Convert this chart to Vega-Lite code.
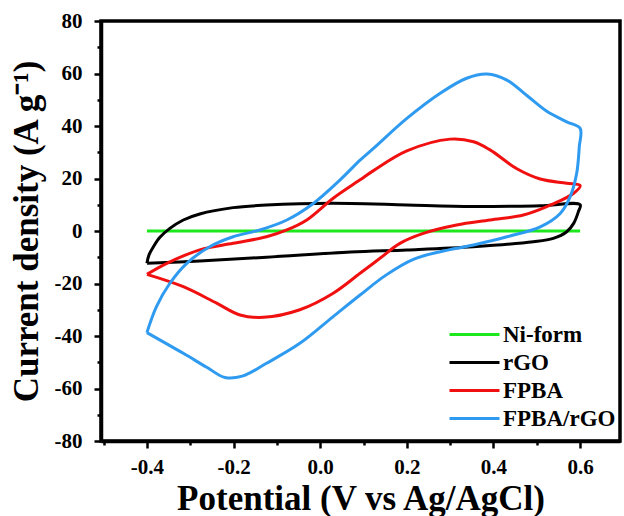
{
  "$schema": "https://vega.github.io/schema/vega-lite/v6.json",
  "width": 519,
  "height": 420,
  "autosize": {"type": "none"},
  "padding": {"left": 101, "top": 21, "right": 4, "bottom": 75},
  "background": "white",
  "config": {
    "view": {"stroke": "black", "strokeWidth": 3.5},
    "font": "Liberation Serif"
  },
  "data": {
    "values": [
      {"s": "Ni-form", "i": 0, "v": -0.4, "j": 0.0},
      {"s": "Ni-form", "i": 1, "v": 0.6, "j": 0.0},

      {"s": "rGO", "i": 0, "v": -0.4, "j": -12.3},
      {"s": "rGO", "i": 1, "v": -0.395, "j": -9.0},
      {"s": "rGO", "i": 2, "v": -0.385, "j": -6.0},
      {"s": "rGO", "i": 3, "v": -0.37, "j": -2.4},
      {"s": "rGO", "i": 4, "v": -0.347, "j": 1.0},
      {"s": "rGO", "i": 5, "v": -0.316, "j": 4.2},
      {"s": "rGO", "i": 6, "v": -0.278, "j": 6.5},
      {"s": "rGO", "i": 7, "v": -0.201, "j": 8.9},
      {"s": "rGO", "i": 8, "v": -0.124, "j": 9.9},
      {"s": "rGO", "i": 9, "v": -0.047, "j": 10.4},
      {"s": "rGO", "i": 10, "v": 0.07, "j": 10.5},
      {"s": "rGO", "i": 11, "v": 0.2, "j": 9.9},
      {"s": "rGO", "i": 12, "v": 0.353, "j": 9.3},
      {"s": "rGO", "i": 13, "v": 0.508, "j": 9.6},
      {"s": "rGO", "i": 14, "v": 0.6, "j": 10.0},
      {"s": "rGO", "i": 15, "v": 0.596, "j": 7.4},
      {"s": "rGO", "i": 16, "v": 0.585, "j": 2.9},
      {"s": "rGO", "i": 17, "v": 0.569, "j": -0.3},
      {"s": "rGO", "i": 18, "v": 0.538, "j": -2.8},
      {"s": "rGO", "i": 19, "v": 0.492, "j": -4.1},
      {"s": "rGO", "i": 20, "v": 0.353, "j": -6.0},
      {"s": "rGO", "i": 21, "v": 0.2, "j": -7.2},
      {"s": "rGO", "i": 22, "v": 0.07, "j": -8.0},
      {"s": "rGO", "i": 23, "v": -0.124, "j": -10.0},
      {"s": "rGO", "i": 24, "v": -0.278, "j": -11.4},
      {"s": "rGO", "i": 25, "v": -0.4, "j": -12.3},

      {"s": "FPBA", "i": 0, "v": -0.4, "j": -16.5},
      {"s": "FPBA", "i": 1, "v": -0.354, "j": -12.3},
      {"s": "FPBA", "i": 2, "v": -0.278, "j": -7.2},
      {"s": "FPBA", "i": 3, "v": -0.201, "j": -4.7},
      {"s": "FPBA", "i": 4, "v": -0.124, "j": -2.2},
      {"s": "FPBA", "i": 5, "v": -0.077, "j": 0.4},
      {"s": "FPBA", "i": 6, "v": -0.031, "j": 4.2},
      {"s": "FPBA", "i": 7, "v": 0.03, "j": 12.5},
      {"s": "FPBA", "i": 8, "v": 0.092, "j": 19.5},
      {"s": "FPBA", "i": 9, "v": 0.123, "j": 23.0},
      {"s": "FPBA", "i": 10, "v": 0.2, "j": 30.5},
      {"s": "FPBA", "i": 11, "v": 0.3, "j": 35.0},
      {"s": "FPBA", "i": 12, "v": 0.354, "j": 34.0},
      {"s": "FPBA", "i": 13, "v": 0.392, "j": 30.9},
      {"s": "FPBA", "i": 14, "v": 0.454, "j": 23.7},
      {"s": "FPBA", "i": 15, "v": 0.508, "j": 19.8},
      {"s": "FPBA", "i": 16, "v": 0.569, "j": 18.2},
      {"s": "FPBA", "i": 17, "v": 0.6, "j": 17.3},
      {"s": "FPBA", "i": 18, "v": 0.585, "j": 14.4},
      {"s": "FPBA", "i": 19, "v": 0.523, "j": 9.3},
      {"s": "FPBA", "i": 20, "v": 0.469, "j": 6.1},
      {"s": "FPBA", "i": 21, "v": 0.392, "j": 4.2},
      {"s": "FPBA", "i": 22, "v": 0.315, "j": 2.3},
      {"s": "FPBA", "i": 23, "v": 0.238, "j": -0.9},
      {"s": "FPBA", "i": 24, "v": 0.184, "j": -4.7},
      {"s": "FPBA", "i": 25, "v": 0.138, "j": -10.4},
      {"s": "FPBA", "i": 26, "v": 0.092, "j": -16.1},
      {"s": "FPBA", "i": 27, "v": 0.03, "j": -23.7},
      {"s": "FPBA", "i": 28, "v": -0.047, "j": -30.0},
      {"s": "FPBA", "i": 29, "v": -0.131, "j": -32.9},
      {"s": "FPBA", "i": 30, "v": -0.185, "j": -32.0},
      {"s": "FPBA", "i": 31, "v": -0.239, "j": -27.5},
      {"s": "FPBA", "i": 32, "v": -0.316, "j": -21.2},
      {"s": "FPBA", "i": 33, "v": -0.4, "j": -16.5},

      {"s": "FPBA/rGO", "i": 0, "v": -0.4, "j": -38.7},
      {"s": "FPBA/rGO", "i": 1, "v": -0.378, "j": -28.8},
      {"s": "FPBA/rGO", "i": 2, "v": -0.347, "j": -19.9},
      {"s": "FPBA/rGO", "i": 3, "v": -0.308, "j": -12.3},
      {"s": "FPBA/rGO", "i": 4, "v": -0.255, "j": -6.0},
      {"s": "FPBA/rGO", "i": 5, "v": -0.201, "j": -2.2},
      {"s": "FPBA/rGO", "i": 6, "v": -0.139, "j": 0.4},
      {"s": "FPBA/rGO", "i": 7, "v": -0.077, "j": 4.2},
      {"s": "FPBA/rGO", "i": 8, "v": -0.016, "j": 10.5},
      {"s": "FPBA/rGO", "i": 9, "v": 0.046, "j": 19.5},
      {"s": "FPBA/rGO", "i": 10, "v": 0.092, "j": 27.0},
      {"s": "FPBA/rGO", "i": 11, "v": 0.123, "j": 31.5},
      {"s": "FPBA/rGO", "i": 12, "v": 0.2, "j": 42.9},
      {"s": "FPBA/rGO", "i": 13, "v": 0.277, "j": 52.5},
      {"s": "FPBA/rGO", "i": 14, "v": 0.338, "j": 58.2},
      {"s": "FPBA/rGO", "i": 15, "v": 0.385, "j": 59.8},
      {"s": "FPBA/rGO", "i": 16, "v": 0.431, "j": 57.5},
      {"s": "FPBA/rGO", "i": 17, "v": 0.477, "j": 51.6},
      {"s": "FPBA/rGO", "i": 18, "v": 0.523, "j": 45.6},
      {"s": "FPBA/rGO", "i": 19, "v": 0.569, "j": 41.6},
      {"s": "FPBA/rGO", "i": 20, "v": 0.6, "j": 39.1},
      {"s": "FPBA/rGO", "i": 21, "v": 0.598, "j": 32.1},
      {"s": "FPBA/rGO", "i": 22, "v": 0.592, "j": 22.0},
      {"s": "FPBA/rGO", "i": 23, "v": 0.577, "j": 13.1},
      {"s": "FPBA/rGO", "i": 24, "v": 0.554, "j": 6.7},
      {"s": "FPBA/rGO", "i": 25, "v": 0.508, "j": 1.6},
      {"s": "FPBA/rGO", "i": 26, "v": 0.431, "j": -2.2},
      {"s": "FPBA/rGO", "i": 27, "v": 0.354, "j": -5.3},
      {"s": "FPBA/rGO", "i": 28, "v": 0.277, "j": -7.9},
      {"s": "FPBA/rGO", "i": 29, "v": 0.215, "j": -10.8},
      {"s": "FPBA/rGO", "i": 30, "v": 0.15, "j": -17.0},
      {"s": "FPBA/rGO", "i": 31, "v": 0.092, "j": -24.4},
      {"s": "FPBA/rGO", "i": 32, "v": 0.03, "j": -32.6},
      {"s": "FPBA/rGO", "i": 33, "v": -0.047, "j": -42.8},
      {"s": "FPBA/rGO", "i": 34, "v": -0.124, "j": -50.4},
      {"s": "FPBA/rGO", "i": 35, "v": -0.18, "j": -55.3},
      {"s": "FPBA/rGO", "i": 36, "v": -0.22, "j": -55.8},
      {"s": "FPBA/rGO", "i": 37, "v": -0.262, "j": -51.9},
      {"s": "FPBA/rGO", "i": 38, "v": -0.316, "j": -46.6},
      {"s": "FPBA/rGO", "i": 39, "v": -0.4, "j": -38.7}
    ]
  },
  "mark": {"type": "line", "strokeWidth": 3, "interpolate": "catmull-rom", "clip": true},
  "encoding": {
    "x": {
      "field": "v",
      "type": "quantitative",
      "scale": {"domain": [-0.506, 0.692], "nice": false, "zero": false},
      "axis": {
        "title": "Potential (V vs Ag/AgCl)",
        "values": [-0.5, -0.4, -0.3, -0.2, -0.1, 0, 0.1, 0.2, 0.3, 0.4, 0.5, 0.6],
        "labelExpr": "abs(round(datum.value * 10)) % 2 == 0 ? replace(format(datum.value, '.1f'), '\u2212', '-') : ''",
        "grid": false,
        "domainColor": "black",
        "domainWidth": 3.5,
        "tickColor": "black",
        "tickWidth": 2.5,
        "tickSize": {"condition": {"test": "abs(round(datum.value * 10)) % 2 == 0", "value": 7}, "value": 4},
        "labelFont": "Liberation Serif",
        "labelFontWeight": "bold",
        "labelFontSize": 21,
        "labelColor": "black",
        "labelPadding": 8,
        "labelFlush": false,
        "labelOverlap": false,
        "titleFont": "Liberation Serif",
        "titleFontWeight": "bold",
        "titleFontSize": 35,
        "titleColor": "black",
        "titleBaseline": "alphabetic",
        "titleY": 68
      }
    },
    "y": {
      "field": "j",
      "type": "quantitative",
      "scale": {"domain": [-80, 80], "nice": false, "zero": false},
      "axis": {
        "title": "Current density (A g\u207b\u00b9)",
        "values": [-80, -70, -60, -50, -40, -30, -20, -10, 0, 10, 20, 30, 40, 50, 60, 70, 80],
        "labelExpr": "abs(round(datum.value)) % 20 == 0 ? replace(format(datum.value, 'd'), '\u2212', '-') : ''",
        "grid": false,
        "domainColor": "black",
        "domainWidth": 3.5,
        "tickColor": "black",
        "tickWidth": 2.5,
        "tickSize": {"condition": {"test": "abs(round(datum.value)) % 20 == 0", "value": 7}, "value": 4},
        "labelFont": "Liberation Serif",
        "labelFontWeight": "bold",
        "labelFontSize": 21,
        "labelColor": "black",
        "labelPadding": 12,
        "labelFlush": false,
        "labelOverlap": false,
        "titleFont": "Liberation Serif",
        "titleFontWeight": "bold",
        "titleFontSize": 35,
        "titleColor": "black",
        "titleBaseline": "middle",
        "titleX": -75,
        "titleY": 210
      }
    },
    "color": {
      "field": "s",
      "type": "nominal",
      "sort": ["Ni-form", "rGO", "FPBA", "FPBA/rGO"],
      "scale": {"domain": ["Ni-form", "rGO", "FPBA", "FPBA/rGO"], "range": ["#1de81d", "#000000", "#f01010", "#2e9af0"]},
      "legend": {
        "title": null,
        "orient": "none",
        "legendX": 362,
        "legendY": 302,
        "symbolType": "M-2.5,0H2.5",
        "symbolSize": 400,
        "symbolStrokeWidth": 3,
        "labelFont": "Liberation Serif",
        "labelFontWeight": "bold",
        "labelFontSize": 23,
        "labelColor": "black",
        "labelOffset": 17,
        "rowPadding": 4,
        "padding": 0
      }
    },
    "order": {"field": "i", "type": "quantitative"}
  }
}
